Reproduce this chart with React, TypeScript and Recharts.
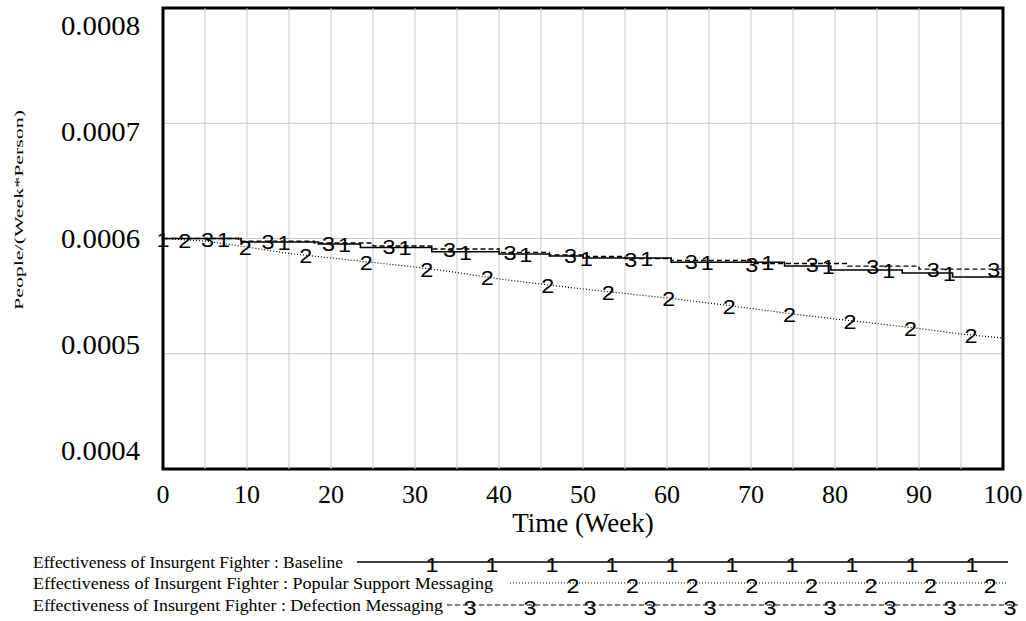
import React from "react";
import {
  ComposedChart,
  Line,
  XAxis,
  YAxis,
  CartesianGrid,
  ReferenceLine,
  ReferenceArea,
} from "recharts";

// ---------- DATA ----------
// Baseline (series 1) – step points (week, value)
const BASELINE_T = [0, 9.3, 18.5, 23.5, 32, 40, 46, 50, 60.5, 74, 79.5, 88, 94, 100];
const BASELINE_V = [
  0.0006, 0.000597, 0.0005952, 0.0005922, 0.0005885, 0.0005865, 0.0005848,
  0.0005831, 0.0005794, 0.0005761, 0.0005727, 0.0005701, 0.0005666, 0.0005666,
];
// Popular Support Messaging (series 2)
const POPULAR_T = [0, 5, 10, 15, 20, 25, 30, 35, 40, 45, 50, 55, 60, 65, 70, 75, 80, 85, 90, 95, 100];
const POPULAR_V = [
  0.0006, 0.0005978, 0.0005926, 0.000587, 0.0005831, 0.0005792, 0.0005753,
  0.0005705, 0.0005649, 0.0005605, 0.0005562, 0.0005523, 0.0005484, 0.000544,
  0.0005393, 0.0005345, 0.0005302, 0.0005262, 0.0005219, 0.0005171, 0.0005137,
];
// Defection Messaging (series 3) – step points
const DEFECTION_T = [0, 9, 18, 25, 32, 40, 46, 50.5, 55, 60.5, 70, 81.5, 90, 100];
const DEFECTION_V = [
  0.0006, 0.0005978, 0.0005961, 0.0005935, 0.0005909, 0.0005879, 0.0005857,
  0.0005844, 0.0005826, 0.0005809, 0.0005783, 0.0005761, 0.0005735, 0.0005735,
];

const X_TICKS = [0, 10, 20, 30, 40, 50, 60, 70, 80, 90, 100];
const X_GRID = [5, 10, 15, 20, 25, 30, 35, 40, 45, 50, 55, 60, 65, 70, 75, 80, 85, 90, 95];
const Y_TICKS = [0.0004, 0.0005, 0.0006, 0.0007, 0.0008];

const SERIES_NAMES = [
  "Effectiveness of Insurgent Fighter : Baseline",
  "Effectiveness of Insurgent Fighter : Popular Support Messaging",
  "Effectiveness of Insurgent Fighter : Defection Messaging",
];
const X_TITLE = "Time (Week)";
const Y_TITLE = "People/(Week*Person)";

// ---------- helpers ----------
const toRows = (ts: number[], vs: number[]) => ts.map((t, i) => ({ t, v: vs[i] }));

const stepAt = (ts: number[], vs: number[], t: number) => {
  let v = vs[0];
  for (let i = 0; i < ts.length; i++) if (ts[i] <= t) v = vs[i];
  return v;
};
const linAt = (ts: number[], vs: number[], t: number) => {
  for (let i = 0; i < ts.length - 1; i++) {
    if (t >= ts[i] && t <= ts[i + 1]) {
      const f = (t - ts[i]) / (ts[i + 1] - ts[i]);
      return vs[i] + f * (vs[i + 1] - vs[i]);
    }
  }
  return vs[vs.length - 1];
};

const MARK_PERIOD = 7.2;
const markerTimes = (offset: number) => {
  const out: number[] = [];
  for (let t = offset; t <= 100; t += MARK_PERIOD) out.push(t);
  return out;
};

const baselineRows = toRows(BASELINE_T, BASELINE_V);
const popularRows = toRows(POPULAR_T, POPULAR_V);
const defectionRows = toRows(DEFECTION_T, DEFECTION_V);

const m1 = markerTimes(0).map((t) => ({ t, v: stepAt(BASELINE_T, BASELINE_V, t) }));
const m2 = markerTimes(2.6).map((t) => ({ t, v: linAt(POPULAR_T, POPULAR_V, t) }));
const m3 = markerTimes(5.3).map((t) => ({ t, v: stepAt(DEFECTION_T, DEFECTION_V, t) }));

const SERIF = "'Liberation Serif', 'Times New Roman', serif";
const SANS = "'Liberation Sans', Arial, sans-serif";
const MARK_FONT = 20;

const markDot = (label: string) => (props: any) => {
  const { cx, cy, index } = props;
  if (cx == null || cy == null) return <g key={`n${index}`} />;
  return (
    <text
      key={`${label}-${index}`}
      x={cx}
      y={cy + 1}
      textAnchor="middle"
      dominantBaseline="central"
      fontFamily={SANS}
      fontSize={MARK_FONT}
      textLength={13}
      lengthAdjust="spacingAndGlyphs"
      fill="#000"
    >
      {label}
    </text>
  );
};

const PLOT_TOP = 8;
const PLOT_BOTTOM = 469;
const MID = (PLOT_TOP + PLOT_BOTTOM) / 2;

const YTick = (props: any) => {
  const { y, payload } = props;
  const ly = MID + (y - MID) * 0.923;
  return (
    <text
      x={140}
      y={ly}
      textAnchor="end"
      dominantBaseline="central"
      fontFamily={SERIF}
      fontSize={27}
      textLength={79}
      lengthAdjust="spacingAndGlyphs"
      fill="#000"
    >
      {Number(payload.value).toFixed(4)}
    </text>
  );
};

const XTick = (props: any) => {
  const { x, payload } = props;
  return (
    <text
      x={x}
      y={494}
      textAnchor="middle"
      dominantBaseline="central"
      fontFamily={SERIF}
      fontSize={26}
      fill="#000"
    >
      {payload.value}
    </text>
  );
};

const Legend = () => {
  const rows = [
    { y: 562, x1: 357, x2: 1008, dash: undefined as string | undefined, w: 1.4, label: "1", start: 432, step: 60, n: 10, tw: 310 },
    { y: 583, x1: 510, x2: 1007, dash: "1 2", w: 1, label: "2", start: 573, step: 59.6, n: 8, tw: 460 },
    { y: 605, x1: 447, x2: 1018, dash: "5 3", w: 1.2, label: "3", start: 470, step: 60, n: 10, tw: 410 },
  ];
  return (
    <svg
      width={1026}
      height={621}
      style={{ position: "absolute", left: 0, top: 0, pointerEvents: "none" }}
    >
      {rows.map((r, i) => (
        <g key={i}>
          <text
            x={33}
            y={r.y}
            dominantBaseline="central"
            fontFamily={SERIF}
            fontSize={17}
            textLength={r.tw}
            lengthAdjust="spacingAndGlyphs"
            fill="#000"
          >
            {SERIES_NAMES[i]}
          </text>
          <line x1={r.x1} x2={r.x2} y1={r.y} y2={r.y} stroke="#000" strokeWidth={r.w} strokeDasharray={r.dash} />
          {Array.from({ length: r.n }).map((_, k) => (
            <text
              key={k}
              x={r.start + k * r.step}
              y={r.y + 3}
              textAnchor="middle"
              dominantBaseline="central"
              fontFamily={SANS}
              fontSize={MARK_FONT}
              textLength={13}
              lengthAdjust="spacingAndGlyphs"
              fill="#000"
            >
              {r.label}
            </text>
          ))}
        </g>
      ))}
    </svg>
  );
};

export default function App() {
  return (
    <div
      style={{
        position: "absolute",
        left: 0,
        top: 0,
        width: 1026,
        height: 621,
        background: "#fff",
      }}
    >
      <ComposedChart
        width={1026}
        height={621}
        margin={{ top: PLOT_TOP, right: 23, bottom: 0, left: 0 }}
      >
        <CartesianGrid vertical={false} stroke="#c8c8c8" strokeWidth={1} />
        {X_GRID.map((g) => (
          <ReferenceLine key={g} x={g} stroke="#c8c8c8" strokeWidth={1} />
        ))}
        <XAxis
          dataKey="t"
          type="number"
          domain={[0, 100]}
          ticks={X_TICKS}
          interval={0}
          height={152}
          axisLine={false}
          tickLine={false}
          tick={<XTick />}
          allowDuplicatedCategory={false}
          label={{
            value: X_TITLE,
            content: (p: any) => (
              <text
                x={p.viewBox.x + p.viewBox.width / 2}
                y={523}
                textAnchor="middle"
                dominantBaseline="central"
                fontFamily={SERIF}
                fontSize={27}
                fill="#000"
              >
                {X_TITLE}
              </text>
            ),
          }}
        />
        <YAxis
          type="number"
          domain={[0.0004, 0.0008]}
          ticks={Y_TICKS}
          interval={0}
          width={163}
          axisLine={false}
          tickLine={false}
          tick={<YTick />}
          allowDataOverflow
          label={{
            value: Y_TITLE,
            content: () => (
              <text
                x={18}
                y={210}
                transform="rotate(-90 18 210)"
                textAnchor="middle"
                dominantBaseline="central"
                fontFamily={SERIF}
                fontSize={13}
                textLength={200}
                lengthAdjust="spacingAndGlyphs"
                fill="#000"
              >
                {Y_TITLE}
              </text>
            ),
          }}
        />
        <Line
          data={popularRows}
          dataKey="v"
          type="linear"
          stroke="#000"
          strokeWidth={1.2}
          strokeDasharray="1 2"
          dot={false}
          activeDot={false}
          isAnimationActive={false}
        />
        <Line
          data={defectionRows}
          dataKey="v"
          type="stepAfter"
          stroke="#000"
          strokeWidth={1.3}
          strokeDasharray="5 3"
          dot={false}
          activeDot={false}
          isAnimationActive={false}
        />
        <Line
          data={baselineRows}
          dataKey="v"
          type="stepAfter"
          stroke="#000"
          strokeWidth={1.6}
          dot={false}
          activeDot={false}
          isAnimationActive={false}
        />
        <Line data={m1} dataKey="v" stroke="none" dot={markDot("1")} activeDot={false} isAnimationActive={false} />
        <Line data={m2} dataKey="v" stroke="none" dot={markDot("2")} activeDot={false} isAnimationActive={false} />
        <Line data={m3} dataKey="v" stroke="none" dot={markDot("3")} activeDot={false} isAnimationActive={false} />
        <ReferenceArea
          x1={0}
          x2={100}
          y1={0.0004}
          y2={0.0008}
          fill="none"
          fillOpacity={0}
          stroke="#000"
          strokeWidth={3}
          ifOverflow="visible"
        />
      </ComposedChart>
      <Legend />
    </div>
  );
}
